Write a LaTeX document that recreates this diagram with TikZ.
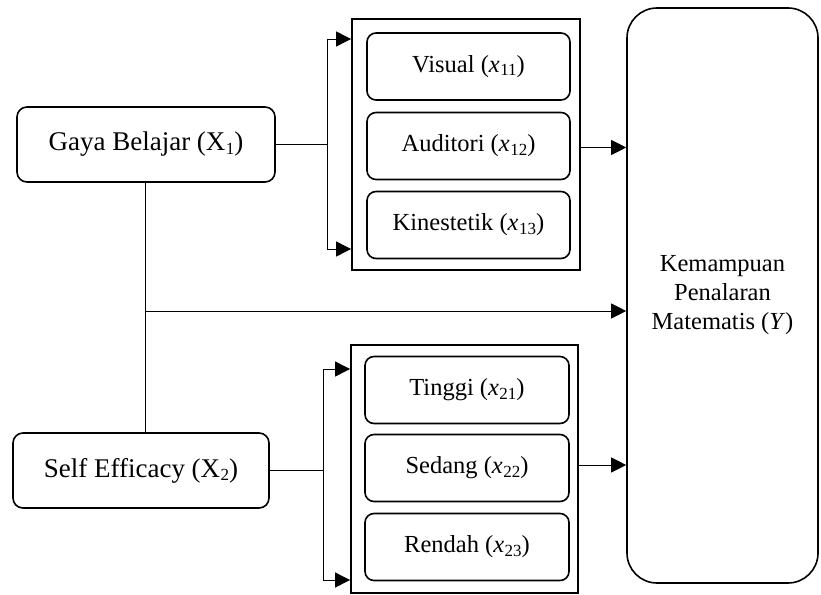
\documentclass[tikz,border=0pt]{standalone}
\usepackage{fontspec}
\setmainfont{Liberation Serif}
\usetikzlibrary{arrows.meta}
\newcommand{\vsub}[2]{#1\kern0.5pt\raisebox{-0.3ex}{\fontsize{17}{17}\selectfont #2}}
\tikzset{
  mainbox/.style={draw, line width=1.6pt, rounded corners=10pt, align=center, font=\fontsize{27}{30}\selectfont, inner sep=0pt},
  group/.style={draw, line width=1.8pt, inner sep=0pt},
  sub/.style={draw, line width=1.6pt, rounded corners=9pt, align=center, font=\fontsize{24.5}{28}\selectfont, inner sep=0pt, minimum width=203pt, minimum height=67pt},
  target/.style={draw, line width=1.6pt, rounded corners=30pt, align=center, font=\fontsize{24.5}{29}\selectfont, inner sep=0pt},
  conn/.style={line width=0.9pt},
  arr/.style={line width=0.9pt, -{Triangle[length=15pt,width=15pt]}}
}
\begin{document}
\begin{tikzpicture}[x=1pt,y=-1pt]
\useasboundingbox (0,0) rectangle (821,594);
% main boxes
\node[mainbox, minimum width=258pt, minimum height=75pt] (gaya) at (146,144.5) {Gaya Belajar (\vsub{X}{1})};
\node[mainbox, minimum width=256pt, minimum height=75pt] (self) at (141,470.5) {Self Efficacy (\vsub{X}{2})};
% group 1
\node[group, minimum width=228pt, minimum height=251pt] (g1) at (466,144.5) {};
\node[sub] (vis) at (468.5,66.5) {Visual (\vsub{\textit{x}}{11})};
\node[sub] (aud) at (468.5,146) {Auditori (\vsub{\textit{x}}{12})};
\node[sub] (kin) at (468.5,225) {Kinestetik (\vsub{\textit{x}}{13})};
% group 2
\node[group, minimum width=227pt, minimum height=248pt] (g2) at (464.5,469) {};
\node[sub, minimum width=204pt] (tin) at (467,390) {Tinggi (\vsub{\textit{x}}{21})};
\node[sub, minimum width=204pt] (sed) at (467,468) {Sedang (\vsub{\textit{x}}{22})};
\node[sub, minimum width=204pt] (ren) at (467,547) {Rendah (\vsub{\textit{x}}{23})};
% target
\node[target, minimum width=191pt, minimum height=575pt] (y) at (722.5,295.5) {Kemampuan\\Penalaran\\Matematis (\textit{Y})};
% junctions
\coordinate (j1) at (327,144.5);
\coordinate (j1t) at (327,39);
\coordinate (j1b) at (327,249);
\coordinate (j2) at (323,470.5);
\coordinate (j2t) at (323,369);
\coordinate (j2b) at (323,580);
\coordinate (v) at (145,311);
% connectors group 1
\draw[conn] (gaya.east) -- (j1);
\draw[conn] (j1t) -- (j1b);
\draw[arr] (j1t) -- (j1t -| g1.west);
\draw[arr] (j1b) -- (j1b -| g1.west);
% connectors group 2
\draw[conn] (self.east) -- (j2);
\draw[conn] (j2t) -- (j2b);
\draw[arr] (j2t) -- (j2t -| g2.west);
\draw[arr] (j2b) -- (j2b -| g2.west);
% vertical between main boxes
\draw[conn] (gaya.south -| v) -- (self.north -| v);
\draw[arr] (v) -- (v -| y.west);
% to target
\draw[arr] ([yshift=-3pt]g1.east) -- ([yshift=-3pt]g1.east -| y.west);
\draw[arr] ([yshift=4pt]g2.east) -- ([yshift=4pt]g2.east -| y.west);
\end{tikzpicture}
\end{document}
